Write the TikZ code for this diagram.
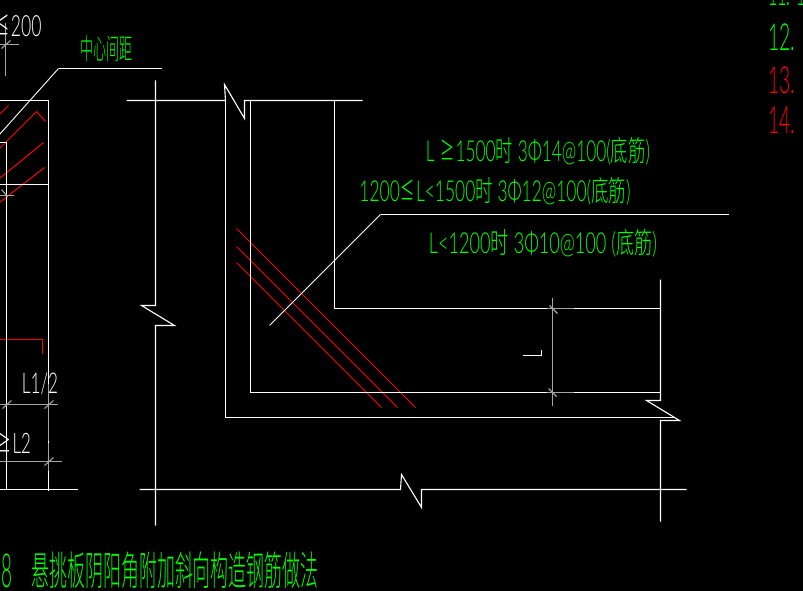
\documentclass[tikz,border=0pt]{standalone}
\usepackage{fontspec}
\setmainfont{Lato Light}
\newfontfamily\cjk{Noto Sans CJK SC Light}
\definecolor{cadgreen}{RGB}{0,255,0}
\definecolor{cadred}{RGB}{255,0,0}
\definecolor{cadgray}{RGB}{165,165,165}
\newcommand{\fitbox}[3]{\resizebox*{#1}{#2}{#3}}
\newcommand{\bigsym}[1]{\scalebox{1.6}[1.35]{#1}}
\tikzset{
  wl/.style={draw=white,line width=1.1pt},
  rl/.style={draw=cadred,line width=1pt},
  gl/.style={draw=cadgray,line width=1.1pt},
  lbl/.style={inner sep=0pt,outer sep=0pt,anchor=center},
  gt/.style={lbl,text=cadgreen},
  wt/.style={lbl,text=white},
  rt/.style={lbl,text=cadred}
}
\begin{document}
\begin{tikzpicture}[x=1pt,y=-1pt]
\useasboundingbox (0,0) rectangle (803,591);
\fill[black] (0,0) rectangle (803,591);
\clip (0,0) rectangle (803,591);
\begin{scope}[shift={(0.5,0.5)}]
% red reinforcement main
\draw[rl] (236,228) -- (415,407);
\draw[rl] (236,246) -- (397,407);
\draw[rl] (236,262) -- (381,407);
% red left
\draw[rl] (-1,114) -- (8,105);
\draw[rl] (-1,148) -- (36,111) -- (45,121);
\draw[rl] (-1,178) -- (43,142);
\draw[rl] (-1,202) -- (44,167);
\draw[rl] (-1,339) -- (42,339) -- (42,353);
% left detail
\draw[wl] (-1,100) -- (48,100) -- (48,490);
\draw[wl] (-1,142) -- (6,142) -- (6,489);
\draw[wl] (-1,184) -- (48,184);
\draw[wl] (-1,489) -- (77,489);
\coordinate (lk) at (58,68);
\draw[wl,line width=0.9pt] (-1,134) -- (lk);
\draw[wl] (lk) -- (161,68);
% left dims
\draw[gl] (5,23) -- (5,76);
\draw[gl] (-1,44) -- (18,44);
\draw[gl] (1,48) -- (10,40);
\draw[gl] (-1,195) -- (13,195);
\draw[gl] (1,189) -- (7,196);
\draw[gl] (-1,404) -- (57,404);
\draw[gl] (2,408) -- (11,400);
\draw[gl] (44,408) -- (53,400);
\draw[gl] (-1,461) -- (61,461);
\draw[gl] (44,465) -- (53,457);
\draw[gl] (48,383) -- (48,440);
\draw[gl] (48,442) -- (48,470);
% main frame
\draw[wl] (155,80) -- (155,305) -- (141,305) -- (174,325) -- (155,325) -- (155,525);
\draw[wl] (126,100) -- (225,100) -- (224,84) -- (244,118) -- (244,100) -- (362,100);
\draw[wl] (225,100) -- (225,417) -- (674,417);
\draw[wl] (250,100) -- (250,392) -- (660,392);
\draw[wl] (334,100) -- (334,308) -- (660,308);
\draw[wl] (660,279) -- (660,400) -- (646,400) -- (679,420) -- (660,420) -- (660,521);
\draw[wl] (139,489) -- (400,489) -- (401,474) -- (421,507) -- (421,489) -- (686,489);
% main leader
\coordinate (mk) at (380,214);
\draw[wl,line width=0.9pt] (269,325) -- (mk);
\draw[wl] (mk) -- (728,214);
% dimension
\draw[gl] (552,297) -- (552,405);
\draw[gl] (546,308) -- (573,308);
\draw[gl] (546,392) -- (573,392);
\draw[gl] (549,305) -- (557,313);
\draw[gl] (548,388) -- (556,396);
\draw[wl] (522,355) -- (541,355) -- (541,349);
\end{scope}
% texts
\node[wt] (t200) at (18,26) {\fitbox{47pt}{22pt}{\bigsym{≤}200}};
\node[wt] (tl1) at (40,384) {\fitbox{36pt}{22pt}{L1/2}};
\node[wt] (tl2) at (14,443) {\fitbox{34pt}{21pt}{\bigsym{≥}L2}};
\node[gt] (tcenter) at (106,49) {\fitbox{52pt}{26pt}{\cjk 中心间距}};
\node[gt] (t1) at (538,151) {\fitbox{224pt}{28pt}{L \bigsym{≥}1500{\cjk 时} 3Φ14@100({\cjk 底筋})}};
\node[gt] (t2) at (495,191) {\fitbox{271pt}{28pt}{1200\bigsym{≤}L<1500{\cjk 时} 3Φ12@100({\cjk 底筋})}};
\node[gt] (t3) at (543,243) {\fitbox{228pt}{28pt}{L<1200{\cjk 时} 3Φ10@100 ({\cjk 底筋})}};
\node[gt] (t8) at (7,571) {\fitbox{11pt}{34pt}{8}};
\node[gt] (ttitle) at (175,570) {\fitbox{287pt}{37pt}{\cjk 悬挑板阴阳角附加斜向构造钢筋做法}};
\node[gt,anchor=west] (t11) at (768,-8) {\fitbox{38pt}{27pt}{11. 1}};
\node[gt,anchor=west] (t12) at (768,37) {\fitbox{27pt}{27pt}{12.}};
\node[rt,anchor=west] (t13) at (768,80) {\fitbox{27pt}{27pt}{13.}};
\node[rt,anchor=west] (t14) at (768,120) {\fitbox{27pt}{27pt}{14.}};
\end{tikzpicture}
\end{document}
